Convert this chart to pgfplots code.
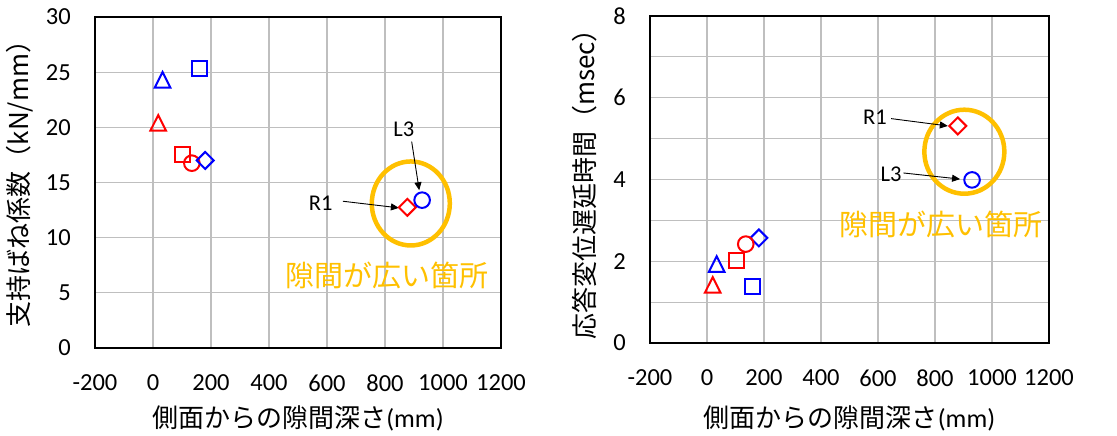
\documentclass[border=0pt]{standalone}
\usepackage{fontspec}
\usepackage{pgfplots}
\pgfplotsset{compat=1.18}
\usetikzlibrary{arrows.meta}
\setmainfont{Carlito}
\newfontfamily\jp{Noto Sans CJK JP}
\definecolor{gold}{RGB}{255,192,0}
\definecolor{gridgray}{RGB}{191,191,191}
\definecolor{mblue}{RGB}{0,0,255}
\definecolor{mred}{RGB}{255,0,0}

\pgfplotsset{
  base/.style={
    scale only axis,
    xmin=-200, xmax=1200,
    xtick={-200,0,...,1200},
    grid=both,
    major grid style={gridgray, line width=1.2pt},
    minor grid style={gridgray, line width=1.2pt},
    axis line style={black, line width=1.3pt},
    major tick length=0pt, minor tick length=0pt,
    tick label style={font=\fontsize{24.5}{28}\selectfont},
    /pgf/number format/assume math mode=true,
    /pgf/number format/1000 sep={},
    xticklabel style={anchor=center, yshift=-35pt, inner sep=0pt},
    yticklabel style={anchor=east, xshift=-24pt, inner sep=0pt},
    clip=false,
  },
  mk/.style={only marks, line width=2pt},
  tri/.style={mark=triangle, mark size=9pt, mark options={solid, fill=white, yscale=1.15, yshift=-2.2pt}},
  sq/.style={mark=square, mark size=7.5pt, mark options={solid, fill=white}},
  ci/.style={mark=o, mark size=7.8pt, mark options={solid, fill=white}},
  di/.style={mark=square, mark size=6pt, mark options={solid, fill=white, rotate=45}},
}
\tikzset{
  lab/.style={font=\fontsize{22.5}{26}\selectfont},
  arr/.style={-{Triangle[length=8pt,width=7pt]}, line width=0.9pt, black},
  note/.style={gold, font=\fontsize{29}{32}\selectfont\jp},
  axlab/.style={font=\fontsize{26}{30}\selectfont\jp, inner sep=0pt},
}

\begin{document}
\begin{tikzpicture}
\useasboundingbox (0,0) rectangle (1117pt,436pt);

% Left panel
\begin{axis}[base,
  at={(95pt,88pt)}, anchor=south west,
  width=406pt, height=331pt,
  ymin=0, ymax=30, ytick={0,5,...,30},
  xlabel={側面からの隙間深さ{\fontspec{Carlito}(mm)}},
  ylabel={支持ばね係数（kN/mm）},
  every axis x label/.style={axlab, at={(axis description cs:0.5,0)}, anchor=center, yshift=-70pt},
  every axis y label/.style={axlab, at={(axis description cs:0,0.5)}, anchor=center, rotate=90, yshift=75pt, xshift=5pt},
]
\draw[gold, line width=4.5pt] (axis cs:889,13.1) ellipse [x radius=39pt, y radius=42pt];
\addplot[mk, mblue, tri] coordinates {(33,24.3)};
\addplot[mk, mblue, sq] coordinates {(159,25.3)};
\addplot[mk, mred, tri] coordinates {(18,20.4)};
\addplot[mk, mred, sq] coordinates {(102,17.55)};
\addplot[mk, mred, ci] coordinates {(134,16.75)};
\addplot[mk, mblue, di] coordinates {(180,17.0)};
\addplot[mk, mred, di] coordinates {(877,12.75)};
\addplot[mk, mblue, ci] coordinates {(928,13.4)};
\node[lab] at (axis cs:865,19.85) {L3};
\draw[arr] (axis cs:892,18.7) -- (axis cs:918,14.3);
\node[lab] at (axis cs:578,13.1) {R1};
\draw[arr] (axis cs:655,13.3) -- (axis cs:848,12.7);
\node[note] at (axis cs:807,6.6) {隙間が広い箇所};
\end{axis}

% Right panel
\begin{axis}[base,
  at={(650pt,93pt)}, anchor=south west,
  width=399pt, height=327pt,
  ymin=0, ymax=8, ytick={0,2,...,8}, minor ytick={1,3,5,7},
  xlabel={側面からの隙間深さ{\fontspec{Carlito}(mm)}},
  ylabel={応答変位遅延時間（msec）},
  every axis x label/.style={axlab, at={(axis description cs:0.5,0)}, anchor=center, yshift=-75pt},
  every axis y label/.style={axlab, at={(axis description cs:0,0.5)}, anchor=center, rotate=90, yshift=65pt, xshift=1.5pt},
]
\draw[gold, line width=4.5pt] (axis cs:903,4.68) ellipse [x radius=40pt, y radius=42pt];
\addplot[mk, mred, di] coordinates {(880,5.31)};
\addplot[mk, mblue, ci] coordinates {(930,3.99)};
\addplot[mk, mblue, di] coordinates {(182,2.57)};
\addplot[mk, mred, ci] coordinates {(136,2.42)};
\addplot[mk, mred, sq] coordinates {(104,2.01)};
\addplot[mk, mblue, tri] coordinates {(34,1.93)};
\addplot[mk, mred, tri] coordinates {(20,1.42)};
\addplot[mk, mblue, sq] coordinates {(159,1.39)};
\node[lab] at (axis cs:589,5.53) {R1};
\draw[arr] (axis cs:646,5.49) -- (axis cs:845,5.31);
\node[lab] at (axis cs:646,4.13) {L3};
\draw[arr] (axis cs:689,4.16) -- (axis cs:888,4.01);
\node[note] at (axis cs:821,2.91) {隙間が広い箇所};
\end{axis}
\end{tikzpicture}
\end{document}
